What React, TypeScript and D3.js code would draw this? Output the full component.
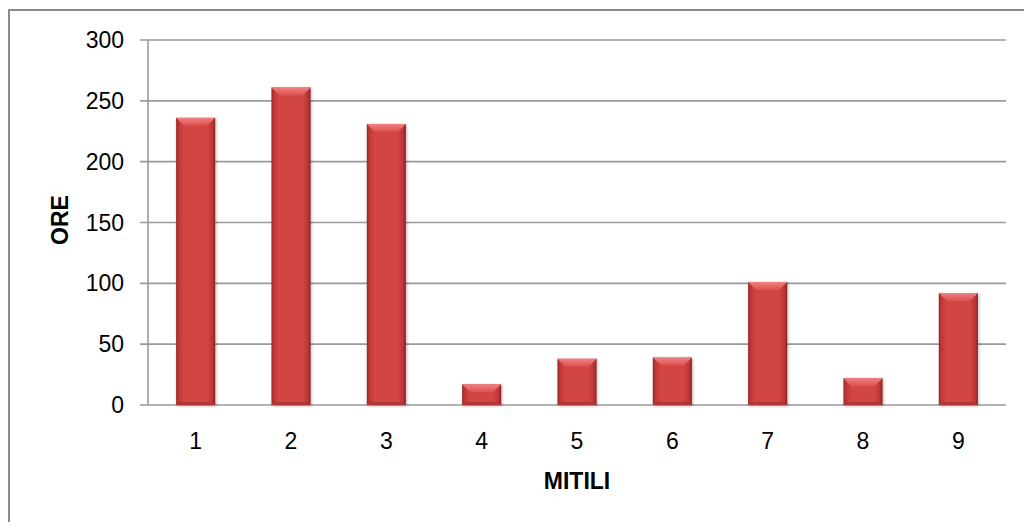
import React, { useEffect, useRef } from "react";
import * as d3 from "d3";

const categories = ["1", "2", "3", "4", "5", "6", "7", "8", "9"];
const hours = [236, 261, 231, 17, 38, 39, 101, 22, 92];
const yTicks = [0, 50, 100, 150, 200, 250, 300];
const xTitle = "MITILI";
const yTitle = "ORE";

const W = 1024;
const H = 522;
const M = { left: 148, right: 1006, top: 40, bottom: 405 };
const FONT = "'Liberation Sans', Arial, sans-serif";

export default function App() {
  const ref = useRef<SVGSVGElement>(null);

  useEffect(() => {
    const svg = d3.select(ref.current);
    svg.selectAll("*").remove();

    const x = d3.scaleBand<string>().domain(categories).range([M.left, M.right]).paddingInner(0.59).paddingOuter(0.295);
    const y = d3.scaleLinear().domain([0, 300]).range([M.bottom, M.top]);

    const defs = svg.append("defs");
    const g = defs.append("linearGradient").attr("id", "barFill").attr("x1", 0).attr("x2", 1).attr("y1", 0).attr("y2", 0);
    [
      [0, "#9a2626"],
      [0.07, "#bf3838"],
      [0.2, "#d24444"],
      [0.8, "#d24444"],
      [0.93, "#bb3636"],
      [1, "#8a2020"],
    ].forEach(([o, c]) => g.append("stop").attr("offset", o as number).attr("stop-color", c as string));
    const gt = defs.append("linearGradient").attr("id", "bevelTop").attr("x1", 0).attr("x2", 0).attr("y1", 0).attr("y2", 1);
    gt.append("stop").attr("offset", 0).attr("stop-color", "#f08080");
    gt.append("stop").attr("offset", 1).attr("stop-color", "#dc5050");

    const f = defs.append("filter").attr("id", "shadow").attr("x", -0.2).attr("y", -0.2).attr("width", 1.4).attr("height", 1.4);
    f.append("feGaussianBlur").attr("in", "SourceAlpha").attr("stdDeviation", 1.5).attr("result", "b");
    f.append("feOffset").attr("in", "b").attr("dx", 1).attr("dy", 1).attr("result", "o");
    f.append("feComponentTransfer").attr("in", "o").attr("result", "s").append("feFuncA").attr("type", "linear").attr("slope", 0.3);
    const fm = f.append("feMerge");
    fm.append("feMergeNode").attr("in", "s");
    fm.append("feMergeNode").attr("in", "SourceGraphic");

    // outer frame
    svg.append("rect").attr("x", 9).attr("y", 10).attr("width", 1030).attr("height", 530)
      .attr("fill", "white").attr("stroke", "#8c8c8c").attr("stroke-width", 2);

    // gridlines and y ticks
    svg.append("g").selectAll("line").data(yTicks).join("line")
      .attr("x1", M.left - 8).attr("x2", M.right)
      .attr("y1", (d) => y(d)).attr("y2", (d) => y(d))
      .attr("stroke", "#9a9a9a").attr("stroke-width", 1.6);
    svg.append("line").attr("x1", M.left).attr("x2", M.left).attr("y1", M.top).attr("y2", M.bottom)
      .attr("stroke", "#9a9a9a").attr("stroke-width", 1.6);

    svg.append("g").selectAll("text").data(yTicks).join("text")
      .attr("x", M.left - 24).attr("y", (d) => y(d)).attr("dy", "0.35em")
      .attr("text-anchor", "end").attr("font-family", FONT).attr("font-size", 23).attr("fill", "#000")
      .text((d) => d);

    // bars
    const bars = svg.append("g").selectAll("g").data(hours).join("g").attr("filter", "url(#shadow)");
    bars.append("rect")
      .attr("x", (_, i) => x(categories[i])!).attr("y", (d) => y(d))
      .attr("width", x.bandwidth()).attr("height", (d) => y(0) - y(d))
      .attr("fill", "url(#barFill)");
    const bev = 8;
    bars.append("path")
      .attr("d", (d, i) => {
        const x0 = x(categories[i])!;
        const x1 = x0 + x.bandwidth();
        const y0 = y(d);
        const h = Math.min(bev, (y(0) - y(d)) / 2);
        return `M${x0},${y0}L${x1},${y0}L${x1 - h},${y0 + h}L${x0 + h},${y0 + h}Z`;
      })
      .attr("fill", "url(#bevelTop)");
    bars.append("path")
      .attr("d", (d, i) => {
        const x0 = x(categories[i])!;
        const x1 = x0 + x.bandwidth();
        const y1 = y(0);
        const h = Math.min(3, (y(0) - y(d)) / 2);
        return `M${x0},${y1}L${x1},${y1}L${x1 - h},${y1 - h}L${x0 + h},${y1 - h}Z`;
      })
      .attr("fill", "#b33434");

    // x labels
    svg.append("g").selectAll("text").data(categories).join("text")
      .attr("x", (d) => x(d)! + x.bandwidth() / 2).attr("y", 449)
      .attr("text-anchor", "middle").attr("font-family", FONT).attr("font-size", 23).attr("fill", "#000")
      .text((d) => d);

    svg.append("text").attr("x", 577).attr("y", 489).attr("text-anchor", "middle")
      .attr("font-family", FONT).attr("font-size", 23).attr("font-weight", "bold").text(xTitle);
    svg.append("text").attr("transform", `translate(68,220) rotate(-90)`)
      .attr("text-anchor", "middle").attr("font-family", FONT).attr("font-size", 23).attr("font-weight", "bold").text(yTitle);
  }, []);

  return <svg ref={ref} width={W} height={H} style={{ position: "absolute", left: 0, top: 0, background: "white" }} />;
}
